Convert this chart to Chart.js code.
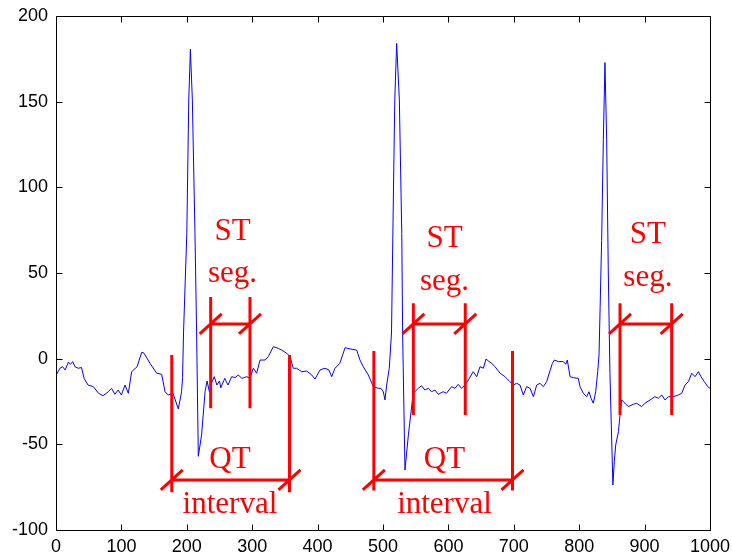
<!DOCTYPE html>
<html>
<head>
<meta charset="utf-8">
<script src="https://cdn.jsdelivr.net/npm/chart.js@4/dist/chart.umd.min.js"></script>
<style>
  html, body { margin: 0; padding: 0; background: #fff; }
  #wrap { width: 732px; height: 557px; position: relative; }
</style>
</head>
<body>
<div id="wrap"><canvas id="c" width="732" height="557"></canvas></div>
<script>
// ---- ECG trace (sample index, amplitude) ----
const ecgX = [0,6,10,14,19,22,25.5,29,34,39,43,49,57,65,72,80,85,90,95,100,105.5,110.6,115.7,124,131,134.6,143.7,154,161.6,166.7,171.7,179,187,192,193.5,195,200,203,205.5,208.5,212.5,215,217.6,222.6,228,231,234.5,238,242,246,250,252,258,263,268.6,273.7,278.8,284,291.6,296.6,301.7,306.8,312,319.6,324.6,332.3,340,345,352.7,357.8,362.8,368,375.7,383.3,391,396,403.7,411.3,417.4,421.5,426.6,434,442,449.5,459.8,464.8,469.9,477.5,485.2,492.8,497,500.5,503,505.6,509.6,513,515.8,518,520.9,525,528.7,530,533.6,538.8,542.3,546.3,554,559,564,569.2,574.3,579.4,584.5,592,597,604.9,610,615,620,625.4,630.6,638,643.3,648.3,653.5,657.5,661,666.2,671.3,679,686.5,694,699.2,704.4,709.5,714.6,719.7,724.8,730,735,740,745.2,750.3,755.4,759,762,768,775.7,779.4,781.8,786,791,798.6,801.2,806.3,811.4,815,818,821.6,825.2,828.3,830.3,832,834.3,836.9,839.4,842,844.5,847,851.5,853.7,855.8,860,862.4,865,870,875.1,882.7,887.9,895.5,900.6,908.3,915.9,921,926.2,931.2,936.4,944,951.6,956.8,961.8,967,972,977.1,982.2,986.2,991.3,996.5,1000];
const ecgY = [-9.8,-5.6,-4.7,-6.6,-2,-3.3,-1.7,-4.7,-5.6,-5.2,-11.5,-15.4,-16.3,-20.2,-21.6,-19.3,-17.3,-20.8,-18.3,-21.2,-15.4,-20.2,-7.6,-4.7,3.7,3.2,-2.7,-8.5,-9.1,-19.3,-21.2,-20.2,-29.4,-19.3,-11,15,73,151,180.6,151,73,15,-57,-44.5,-19,-13,-19.3,-14,-10.5,-15.4,-13,-17,-11.5,-15.4,-10.5,-11.1,-9.5,-11.5,-10.5,-11.5,-5.6,-8.5,-0.8,-0.8,1.2,7,6,5,3.2,1.2,-5.6,-5.6,-7.6,-7.2,-9.5,-11.9,-6.6,-5.6,-6.6,-10.5,-5.6,-2.7,6.4,5.7,5,-0.8,-4.7,-9.5,-16.3,-17.3,-17.3,-19.3,-24.1,-15.4,-5.6,15,92.6,151,184,151,73,15,-65,-44.5,-32.9,-20.2,-17.3,-15.8,-18.3,-17.3,-19.3,-18.3,-20.8,-19.3,-20.2,-16.3,-17.3,-15,-17.3,-15.4,-12.4,-7.6,-10.5,-4.7,-5.6,-0.2,-1.3,-2.7,-4.7,-8.5,-10.5,-13.4,-15.4,-14.4,-15.4,-21.2,-16.3,-17.3,-22.2,-15.4,-14.4,-16.3,-13.4,-7,-2.7,-0.8,-1.7,-1.7,-3.3,-0.8,-10.5,-11.1,-11.5,-16.3,-20.2,-22.2,-19.3,-23.1,-26,-19.3,-7.6,2.2,30,69,127.7,172.8,127.7,50,-8.5,-73.7,-60,-50.4,-42.6,-32.9,-24.1,-26,-28,-26.6,-26,-28,-26,-24.1,-22.2,-23.1,-21.2,-24.1,-22.2,-22.2,-21.2,-20.2,-15.4,-13.4,-8.5,-10.5,-7.6,-10.5,-13.4,-16.3,-17.3];

// ---- tick labels ----
const xTickValues = [0,100,200,300,400,500,600,700,800,900,1000];
const yTickValues = [-100,-50,0,50,100,150,200];

// ---- QT interval annotations (data units) ----
const qtStart  = [177, 486];
const qtEnd    = [357, 698];
const qtTop    = [2.2, 4.5];
const qtBottom = [-78, -77];
const qtArrowY = [-70.8, -70.8];
const qtLabelX = [266, 594];
const qtLabelY1 = [-63.8, -63.8];
const qtLabelY2 = [-90.1, -90.1];

// ---- ST segment annotations (data units) ----
const stStart  = [236.5, 546.4, 862.4];
const stEnd    = [296.6, 625.8, 941.4];
const stTop    = [36, 32.3, 32.3];
const stBottom = [-29, -32.9, -32.9];
const stArrowY = [20.3, 20.3, 20.3];
const stLabelX = [270, 594, 905];
const stLabelY1 = [69.3, 65.2, 67.5];
const stLabelY2 = [44.8, 40.1, 42.4];

const ecgPoints = ecgX.map((v, i) => ({ x: v, y: ecgY[i] }));

const boxPlugin = {
  id: 'box',
  afterDraw(chart) {
    const { ctx, chartArea: a, scales: { x, y } } = chart;
    ctx.save();
    ctx.strokeStyle = '#000';
    ctx.lineWidth = 1;
    const L = Math.round(a.left) + 0.5, R = Math.round(a.right) + 0.5;
    const T = Math.round(a.top) + 0.5, B = Math.round(a.bottom) + 0.5;
    ctx.beginPath();
    ctx.rect(L, T, R - L, B - T);
    const tl = 6;
    x.ticks.forEach(t => {
      const px = Math.round(x.getPixelForValue(t.value)) + 0.5;
      ctx.moveTo(px, B); ctx.lineTo(px, B - tl);
      ctx.moveTo(px, T); ctx.lineTo(px, T + tl);
    });
    y.ticks.forEach(t => {
      const py = Math.round(y.getPixelForValue(t.value)) + 0.5;
      ctx.moveTo(L, py); ctx.lineTo(L + tl, py);
      ctx.moveTo(R, py); ctx.lineTo(R - tl, py);
    });
    ctx.stroke();
    ctx.restore();
  }
};

const annoPlugin = {
  id: 'anno',
  afterDatasetsDraw(chart) {
    const { ctx, scales: { x, y } } = chart;
    ctx.save();
    ctx.strokeStyle = '#ff0000';
    ctx.fillStyle = '#ff0000';
    ctx.lineWidth = 3;
    ctx.lineCap = 'butt';
    const seg = (x1, y1, x2, y2) => { ctx.moveTo(x1, y1); ctx.lineTo(x2, y2); };
    const bracket = (xs, xe, top, bot, ay) => {
      const p1 = x.getPixelForValue(xs), p2 = x.getPixelForValue(xe);
      const pt = y.getPixelForValue(top), pb = y.getPixelForValue(bot), pa = y.getPixelForValue(ay);
      ctx.beginPath();
      seg(p1, pt, p1, pb);
      seg(p2, pt, p2, pb);
      seg(p1, pa, p2, pa);
      seg(p1 - 11, pa + 10, p1 + 11, pa - 10);
      seg(p2 - 11, pa + 10, p2 + 11, pa - 10);
      ctx.stroke();
    };
    qtStart.forEach((v, i) => bracket(v, qtEnd[i], qtTop[i], qtBottom[i], qtArrowY[i]));
    stStart.forEach((v, i) => bracket(v, stEnd[i], stTop[i], stBottom[i], stArrowY[i]));

    ctx.font = '31px "Liberation Serif", "Times New Roman", serif';
    ctx.textAlign = 'center';
    ctx.textBaseline = 'alphabetic';
    stLabelX.forEach((v, i) => {
      const px = x.getPixelForValue(v);
      ctx.fillText('ST', px, y.getPixelForValue(stLabelY1[i]));
      ctx.fillText('seg.', px, y.getPixelForValue(stLabelY2[i]));
    });
    qtLabelX.forEach((v, i) => {
      const px = x.getPixelForValue(v);
      ctx.fillText('QT', px, y.getPixelForValue(qtLabelY1[i]));
      ctx.fillText('interval', px, y.getPixelForValue(qtLabelY2[i]));
    });
    ctx.restore();
  }
};

new Chart(document.getElementById('c'), {
  type: 'line',
  data: {
    datasets: [{
      data: ecgPoints,
      borderColor: '#0000ff',
      borderWidth: 1,
      pointRadius: 0,
      tension: 0,
      fill: false
    }]
  },
  options: {
    responsive: false,
    animation: false,
    parsing: false,
    normalized: true,
    layout: { padding: { top: 16, right: 22, left: 0, bottom: 0 } },
    plugins: { legend: { display: false }, tooltip: { enabled: false } },
    scales: {
      x: {
        type: 'linear',
        min: 0, max: 1000,
        afterBuildTicks: s => { s.ticks = xTickValues.map(v => ({ value: v })); },
        afterFit: s => { s.height = 27; s.paddingRight = 0; s.paddingLeft = 0; },
        grid: { display: false, drawTicks: false },
        border: { display: false },
        ticks: { color: '#000', padding: 6, maxRotation: 0, callback: v => String(v), font: { family: '"Liberation Sans", Arial, sans-serif', size: 18 } }
      },
      y: {
        type: 'linear',
        min: -100, max: 200,
        afterBuildTicks: s => { s.ticks = yTickValues.map(v => ({ value: v })); },
        afterFit: s => { s.width = 56; s.paddingTop = 0; s.paddingBottom = 0; },
        grid: { display: false, drawTicks: false },
        border: { display: false },
        ticks: { color: '#000', padding: 8, callback: v => String(v), font: { family: '"Liberation Sans", Arial, sans-serif', size: 18 } }
      }
    }
  },
  plugins: [boxPlugin, annoPlugin]
});
</script>
</body>
</html>
